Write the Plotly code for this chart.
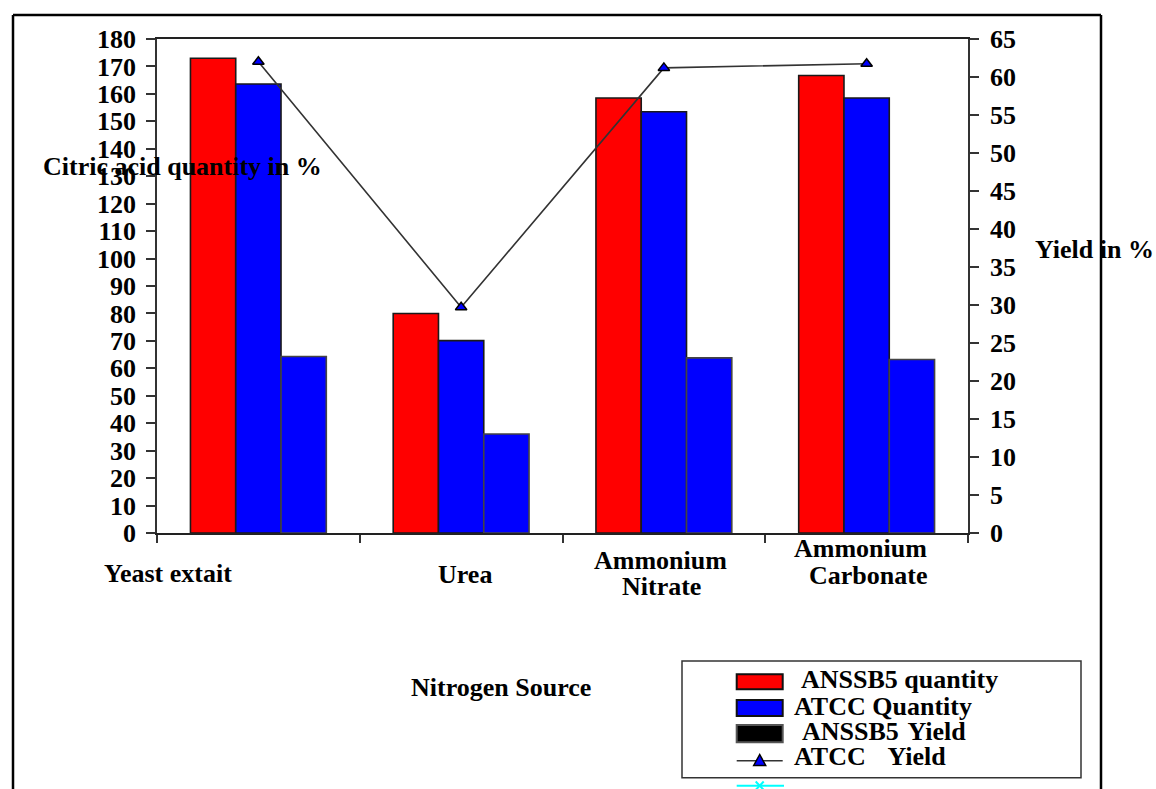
import plotly.graph_objects as go

# ---------------- data ----------------
categories = ["Yeast extait", "Urea", "Ammonium Nitrate", "Ammonium Carbonate"]
anssb5_quantity = [173.0, 80.0, 158.5, 166.7]
atcc_quantity = [163.6, 70.1, 153.5, 158.5]
anssb5_yield = [64.3, 36.1, 63.8, 63.2]
atcc_yield = [62.0, 29.7, 61.2, 61.75]

left_ticks = list(range(0, 181, 10))
right_ticks = list(range(0, 66, 5))

series_names = ["ANSSB5 quantity", "ATCC Quantity", "ANSSB5 Yield", "ATCC Yield"]
legend_texts = ["ANSSB5 quantity", "ATCC Quantity", "ANSSB5\u00a0\u200aYield", "ATCC\u00a0\u00a0\u00a0\u200aYield"]

# ---------------- layout geometry (pixels) ----------------
W, H = 1156, 789
PL, PR, PT, PB = 157, 968, 39, 533


def px(x):
    return (x - PL) / (PR - PL)


def py(y):
    return (PB - y) / (PB - PT)


FONT = "Liberation Serif, Times New Roman, serif"
font = dict(family=FONT, size=26, color="black", weight="bold")

fig = go.Figure()
fig.add_trace(go.Bar(x=categories, y=anssb5_quantity, name=series_names[0],
                     marker=dict(color="#FF0000", line=dict(color="#1a1a1a", width=1.6))))
fig.add_trace(go.Bar(x=categories, y=atcc_quantity, name=series_names[1],
                     marker=dict(color="#0000FF", line=dict(color="#1a1a1a", width=1.6))))
fig.add_trace(go.Bar(x=categories, y=anssb5_yield, name=series_names[2],
                     marker=dict(color="#0000FF", line=dict(color="#444444", width=1.6))))
fig.add_trace(go.Scatter(x=categories, y=atcc_yield, name=series_names[3], yaxis="y2",
                         mode="lines+markers",
                         line=dict(color="#333333", width=1.6),
                         marker=dict(symbol="triangle-up", size=10, color="#0000FF",
                                     line=dict(color="black", width=1.5))))

shapes = []
annotations = []

# outer border (open at bottom, clipped by page)
for (x0, y0, x1, y1) in [(13, 15, 13, 800), (13, 15, 1101, 15), (1101, 15, 1101, 800)]:
    shapes.append(dict(type="line", xref="paper", yref="paper",
                       x0=px(x0), y0=py(y0), x1=px(x1), y1=py(y1),
                       line=dict(color="black", width=2.5)))

# category labels (drawn as text below the axis)
cat_label_lines = {
    "Yeast extait": [("Yeast extait", 101.7, 573)],
    "Urea": [("Urea", 435.7, 574.5)],
    "Ammonium Nitrate": [("Ammonium", 592.3, 560.5), ("Nitrate", 620, 586.5)],
    "Ammonium Carbonate": [("Ammonium", 791.7, 548.8), ("Carbonate", 806.7, 575.5)],
}
for c in categories:
    for (t, lx, cy) in cat_label_lines[c]:
        annotations.append(dict(text=t, xref="paper", yref="paper", x=px(lx), y=py(cy),
                                xanchor="left", yanchor="middle", showarrow=False, font=font))

# axis titles
annotations.append(dict(text="Citric acid quantity in %", xref="paper", yref="paper",
                        x=px(40.7), y=py(166), xanchor="left", yanchor="middle",
                        showarrow=False, font=font))
annotations.append(dict(text="Yield in %", xref="paper", yref="paper",
                        x=px(1033.3), y=py(249.5), xanchor="left", yanchor="middle",
                        showarrow=False, font=font))
annotations.append(dict(text="Nitrogen Source", xref="paper", yref="paper",
                        x=px(409.3), y=py(687), xanchor="left", yanchor="middle",
                        showarrow=False, font=font))

# custom legend
shapes.append(dict(type="rect", xref="paper", yref="paper",
                   x0=px(682), x1=px(1081), y0=py(661), y1=py(777.7),
                   line=dict(color="#333333", width=1.5), fillcolor="rgba(0,0,0,0)"))
sw_x0, sw_x1 = 736.7, 782.7
swatches = [(674.3, 689.3, "#FF0000", "#111111"),
            (700, 716, "#0000FF", "#111111"),
            (725, 742.3, "#000000", "#555555")]
for (y0, y1, fc, lc) in swatches:
    shapes.append(dict(type="rect", xref="paper", yref="paper",
                       x0=px(sw_x0), x1=px(sw_x1), y0=py(y0), y1=py(y1),
                       line=dict(color=lc, width=2), fillcolor=fc))
# row 4: line with triangle
shapes.append(dict(type="line", xref="paper", yref="paper",
                   x0=px(sw_x0), x1=px(sw_x1), y0=py(760.7), y1=py(760.7),
                   line=dict(color="#333333", width=1.6)))
cx = (sw_x0 + sw_x1) / 2
tri = f"M {px(cx-6)} {py(765.5)} L {px(cx+6)} {py(765.5)} L {px(cx)} {py(754.5)} Z"
shapes.append(dict(type="path", xref="paper", yref="paper", path=tri,
                   fillcolor="#0000FF", line=dict(color="black", width=1.5)))
# row 5 (outside box): cyan line with x marker
shapes.append(dict(type="line", xref="paper", yref="paper",
                   x0=px(sw_x0), x1=px(784), y0=py(785.7), y1=py(785.7),
                   line=dict(color="#00FFFF", width=2)))
for (dx0, dy0, dx1, dy1) in [(-4, 781.5, 4, 789.9), (-4, 789.9, 4, 781.5)]:
    shapes.append(dict(type="line", xref="paper", yref="paper",
                       x0=px(cx + dx0), x1=px(cx + dx1), y0=py(dy0), y1=py(dy1),
                       line=dict(color="#00FFFF", width=2)))

legend_pos = [(799, 679.7), (791.7, 706.4), (800, 731.4), (791.7, 756.4)]
for t, (lx, cy) in zip(legend_texts, legend_pos):
    annotations.append(dict(text=t, xref="paper", yref="paper", x=px(lx), y=py(cy),
                            xanchor="left", yanchor="middle", showarrow=False, font=font))

fig.update_layout(
    width=W, height=H,
    margin=dict(l=PL, r=W - PR, t=PT, b=H - PB, pad=0),
    paper_bgcolor="white", plot_bgcolor="white",
    barmode="group", bargap=0.33, bargroupgap=0,
    showlegend=False,
    font=font,
    shapes=shapes,
    annotations=annotations,
    xaxis=dict(type="category", range=[-0.5, 3.5], showticklabels=False,
               showline=True, linecolor="#222222", linewidth=1.5, mirror=True,
               ticks="outside", tickson="boundaries", ticklen=8, tickwidth=1.5,
               tickcolor="#333333", showgrid=False, zeroline=False),
    yaxis=dict(range=[0, 180], tickvals=left_ticks, ticktext=[str(v) for v in left_ticks],
               showline=True, linecolor="#333333", linewidth=1.5,
               ticks="outside", ticklen=9, tickwidth=1.5, tickcolor="#333333",
               ticklabelstandoff=5,
               tickfont=font, showgrid=False, zeroline=False),
    yaxis2=dict(range=[0, 65], tickvals=right_ticks, ticktext=[str(v) for v in right_ticks],
                overlaying="y", side="right",
                showline=True, linecolor="#333333", linewidth=1.5,
                ticks="outside", ticklen=9, tickwidth=1.5, tickcolor="#333333",
                ticklabelstandoff=6,
                tickfont=font, showgrid=False, zeroline=False),
)

fig.write_html("out.html")
